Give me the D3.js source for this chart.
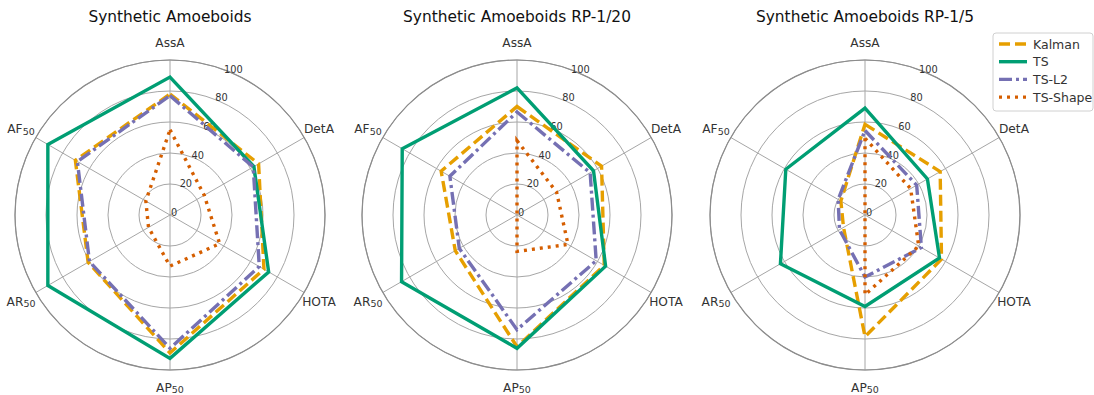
<!DOCTYPE html>
<html>
<head>
<meta charset="utf-8">
<script src="https://cdn.jsdelivr.net/npm/d3@7"></script>
<style>
  body { margin: 0; background: #fff; }
  svg { font-family: "DejaVu Sans", sans-serif; }
</style>
</head>
<body>
<svg id="chart" width="1094" height="395"></svg>
<script>
// axes, clockwise from the top
const categories = ["AssA", "DetA", "HOTA", "AP_50", "AR_50", "AF_50"];
const rTicks = [0, 20, 40, 60, 80, 100];
const titles = ["Synthetic Amoeboids", "Synthetic Amoeboids RP-1/20", "Synthetic Amoeboids RP-1/5"];
const methods = ["Kalman", "TS", "TS-L2", "TS-Shape"];

// values per panel: AssA, DetA, HOTA, AP50, AR50, AF50
const kalman = [
  [78, 66, 70, 89, 61, 70.5],
  [70, 63, 65, 85, 46, 56.5],
  [58.5, 56, 57, 78.5, 16, 18]
];
const ts = [
  [89, 62.5, 73.5, 92.5, 91, 91],
  [82, 57, 66, 86, 86, 85.5],
  [69, 46.5, 55.5, 59, 63, 59]
];
const tsL2 = [
  [77, 62, 66.5, 86, 60, 69],
  [66.5, 54.5, 59, 74, 43, 50],
  [54.5, 38.5, 42, 40, 19, 20]
];
const tsShape = [
  [55, 25.5, 37, 33, 16, 18],
  [48, 29.5, 38, 23.5, 0, 0],
  [49.5, 34, 40, 51.5, 0, 0]
];

const seriesVals = [kalman, ts, tsL2, tsShape];
const colors = ["#E69F00", "#009E73", "#7570B3", "#D55E00"];
const dashes = ["11,5", null, "13,4,3,4", "3,5"];

const svg = d3.select("#chart");
const centers = [170, 517, 865];
const cy = 215;
const R = 155;

const r = d3.scaleLinear().domain([0, 100]).range([0, R]);
const angle = d3.scalePoint().domain(categories).range([0, 2 * Math.PI * 5 / 6]);

function pos(cat, v) {
  const a = angle(cat);
  return [Math.sin(a) * r(v), -Math.cos(a) * r(v)];
}

function catLabel(sel, name) {
  const parts = name.split("_");
  sel.text(parts[0]);
  if (parts[1]) {
    sel.append("tspan").attr("font-size", 9.5).attr("dy", 1.5).text(parts[1]);
  }
}

centers.forEach((cx, p) => {
  const g = svg.append("g").attr("transform", `translate(${cx},${cy})`);

  // title
  g.append("text")
    .attr("y", -193)
    .attr("text-anchor", "middle")
    .attr("font-size", 15.4)
    .attr("fill", "#111")
    .text(titles[p]);

  // grid circles
  g.selectAll("circle.grid")
    .data(rTicks.slice(1))
    .join("circle")
    .attr("r", d => r(d))
    .attr("fill", "none")
    .attr("stroke", "#a6a6a6")
    .attr("stroke-width", 1);

  // spokes
  g.selectAll("line.spoke")
    .data(categories)
    .join("line")
    .attr("x1", 0).attr("y1", 0)
    .attr("x2", d => pos(d, 100)[0])
    .attr("y2", d => pos(d, 100)[1])
    .attr("stroke", "#a6a6a6")
    .attr("stroke-width", 1);

  // outer spine
  g.append("circle")
    .attr("r", r(100))
    .attr("fill", "none")
    .attr("stroke", "#8c8c8c")
    .attr("stroke-width", 1.2);

  // radial tick labels at 22.5 deg
  const ta = 22.5 * Math.PI / 180;
  g.selectAll("text.rtick")
    .data(rTicks)
    .join("text")
    .attr("x", d => Math.sin(ta) * r(d) + 4)
    .attr("y", d => -Math.cos(ta) * r(d) + 1)
    .attr("text-anchor", "middle")
    .attr("font-size", 9.8)
    .attr("fill", "#333")
    .text(d => d);

  // category labels
  g.selectAll("text.cat")
    .data(categories)
    .join("text")
    .attr("x", d => pos(d, 111)[0])
    .attr("y", d => pos(d, 111)[1] + 4.5)
    .attr("text-anchor", "middle")
    .attr("font-size", 12.2)
    .attr("fill", "#333")
    .each(function(d) { catLabel(d3.select(this), d); });

  // series
  const line = d3.lineRadial()
    .angle((d, i) => angle(categories[i]))
    .radius(d => r(d))
    .curve(d3.curveLinearClosed);

  seriesVals.forEach((vals, s) => {
    g.append("path")
      .attr("d", line(vals[p]))
      .attr("fill", "none")
      .attr("stroke", colors[s])
      .attr("stroke-width", 3.4)
      .attr("stroke-dasharray", dashes[s])
      .attr("stroke-linejoin", "miter");
  });
});

// legend
const leg = svg.append("g").attr("transform", "translate(993,33)");
leg.append("rect")
  .attr("width", 100).attr("height", 78).attr("rx", 3)
  .attr("fill", "#fff").attr("fill-opacity", 0.8)
  .attr("stroke", "#d0d0d0");
methods.forEach((m, i) => {
  const y = 11 + i * 17.7;
  leg.append("line")
    .attr("x1", 6).attr("x2", 34).attr("y1", y).attr("y2", y)
    .attr("stroke", colors[i]).attr("stroke-width", 3.4)
    .attr("stroke-dasharray", dashes[i]);
  leg.append("text")
    .attr("x", 40).attr("y", y + 4.5)
    .attr("font-size", 12.5).attr("fill", "#333")
    .text(m);
});
</script>
</body>
</html>
